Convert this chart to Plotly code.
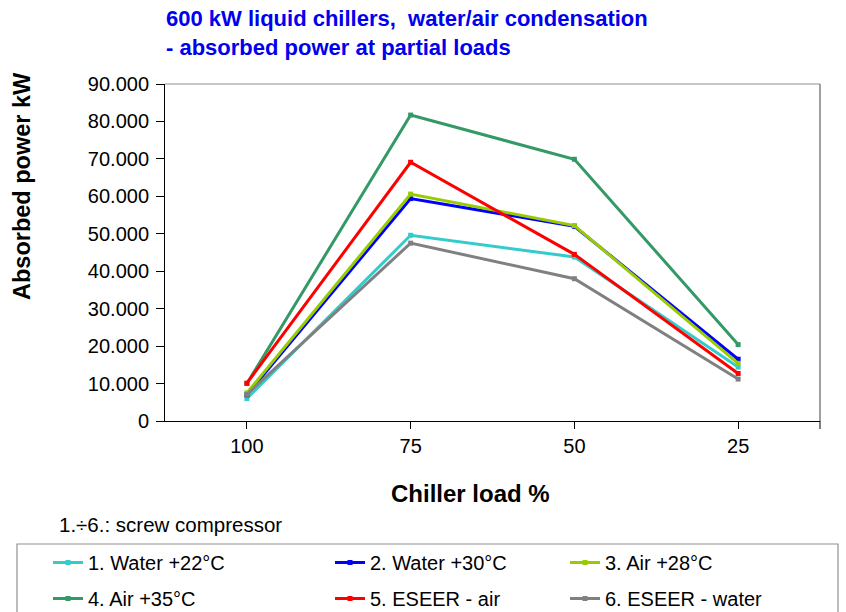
import plotly.graph_objects as go

# Chiller load categories (x axis) and absorbed power per configuration, kW
loads = ["100", "75", "50", "25"]
water22 = [6.0, 49.6, 43.8, 14.4]
water30 = [7.0, 59.4, 52.0, 16.5]
air28 = [7.5, 60.6, 52.2, 15.4]
air35 = [10.0, 81.7, 69.9, 20.4]
eseer_air = [10.1, 69.1, 44.5, 12.7]
eseer_water = [7.1, 47.5, 38.0, 11.2]

names = ["1. Water +22°C", "2. Water +30°C", "3. Air +28°C",
         "4. Air +35°C", "5. ESEER - air", "6. ESEER - water"]
colors = ["#33CCCC", "#0000FF", "#99CC00", "#339966", "#FF0000", "#808080"]
series = [water22, water30, air28, air35, eseer_air, eseer_water]
legend_ids = ["legend", "legend2", "legend3", "legend", "legend2", "legend3"]

y_ticks = list(range(0, 91, 10))
y_ticktext = ["0" if v == 0 else f"{v:.3f}" for v in y_ticks]

FONT = "Liberation Sans, Arial, sans-serif"

# plot area in pixels
W, H = 846, 612
L, R, T, B = 165, 820, 84, 421


def px(x):
    return (x - L) / (R - L)


def py(y):
    return (B - y) / (B - T)


xpos = list(range(len(loads)))

fig = go.Figure()
for i, (name, col, vals, lg) in enumerate(zip(names, colors, series, legend_ids)):
    fig.add_trace(go.Scatter(
        x=xpos, y=vals, name=name, mode="lines+markers",
        line=dict(color=col, width=3),
        marker=dict(symbol="square", size=5, color=col),
        legend=lg, legendgroup=f"g{i}",
    ))

legend_common = dict(
    orientation="v", xanchor="left", yanchor="top",
    bgcolor="rgba(0,0,0,0)", borderwidth=0,
    font=dict(family=FONT, size=20, color="black"),
    tracegroupgap=7,
)
fig.update_layout(
    width=W, height=H,
    margin=dict(l=L, r=W - R, t=T, b=H - B, autoexpand=False),
    paper_bgcolor="white", plot_bgcolor="white",
    showlegend=True,
    legend=dict(x=px(48), y=py(543), **legend_common),
    legend2=dict(x=px(330), y=py(543), **legend_common),
    legend3=dict(x=px(565), y=py(543), **legend_common),
    xaxis=dict(
        range=[-0.5, len(loads) - 0.5], tickvals=xpos, ticktext=loads,
        showgrid=False, zeroline=False, showline=True, linecolor="black",
        linewidth=1, ticks="outside", ticklen=7, tickcolor="black",
        tickfont=dict(family=FONT, size=20, color="black"),
    ),
    yaxis=dict(
        range=[0, 90], tickvals=y_ticks, ticktext=y_ticktext,
        showgrid=False, zeroline=False, showline=True, linecolor="black",
        linewidth=1, ticks="outside", ticklen=8, tickcolor="black",
        ticklabelstandoff=3,
        tickfont=dict(family=FONT, size=20, color="black"),
    ),
    shapes=[
        # plot frame (top and right)
        dict(type="line", xref="paper", yref="paper", x0=0, x1=1, y0=1, y1=1,
             line=dict(color="#B3B3B3", width=1.5)),
        dict(type="line", xref="paper", yref="paper", x0=1, x1=1, y0=0, y1=1,
             line=dict(color="#808080", width=1.5)),
        dict(type="line", xref="paper", yref="paper", x0=1, x1=1, y0=0, y1=py(429),
             line=dict(color="black", width=1)),
        # legend frame
        dict(type="rect", xref="paper", yref="paper",
             x0=px(17), x1=px(838), y0=py(544), y1=py(625),
             line=dict(color="#909090", width=1.2), fillcolor="rgba(0,0,0,0)"),
    ],
    annotations=[
        dict(text="600 kW liquid chillers,&nbsp; water/air condensation<br>- absorbed power at partial loads",
             xref="paper", yref="paper", x=px(164), y=py(4), xanchor="left",
             yanchor="top", align="left", showarrow=False,
             font=dict(family=FONT, size=22, color="#0000EE", weight="bold")),
        dict(text="Absorbed power kW", xref="paper", yref="paper",
             x=px(22), y=py(186), xanchor="center", yanchor="middle",
             textangle=-90, showarrow=False,
             font=dict(family=FONT, size=23.5, color="black", weight="bold")),
        dict(text="Chiller load %", xref="paper", yref="paper",
             x=px(470), y=py(493), xanchor="center", yanchor="middle",
             showarrow=False,
             font=dict(family=FONT, size=24, color="black", weight="bold")),
        dict(text="1.÷6.: screw compressor", xref="paper", yref="paper",
             x=px(57), y=py(524), xanchor="left", yanchor="middle",
             showarrow=False,
             font=dict(family=FONT, size=20.5, color="black")),
    ],
)

fig.write_html("out.html")
